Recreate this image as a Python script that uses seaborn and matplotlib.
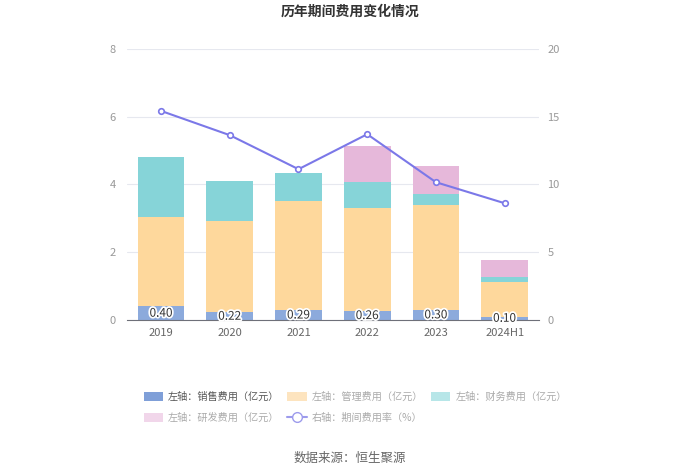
import numpy as np
import pandas as pd
import seaborn as sns
import matplotlib.pyplot as plt
import matplotlib.patheffects as pe
from matplotlib.patches import Patch
from matplotlib.lines import Line2D

# ==========================================================
# Dados
# ==========================================================
anos = ["2019", "2020", "2021", "2022", "2023", "2024H1"]
vendas = [0.40, 0.22, 0.29, 0.26, 0.30, 0.10]       # 销售费用
gestao = [2.63, 2.69, 3.21, 3.05, 3.09, 1.02]       # 管理费用
financeiro = [1.79, 1.20, 0.83, 0.77, 0.33, 0.14]   # 财务费用
pd_custos = [0.00, 0.00, 0.00, 1.04, 0.83, 0.51]    # 研发费用
taxa = [15.42, 13.63, 11.12, 13.70, 10.16, 8.61]    # 期间费用率 (%)

sns.set_style("white")
plt.rcParams['font.family'] = ['Noto Sans CJK SC', 'DejaVu Sans']

df = pd.DataFrame({"ano": anos, "vendas": vendas, "gestao": gestao,
                   "fin": financeiro, "rd": pd_custos, "taxa": taxa})
df["c1"] = df["vendas"]
df["c2"] = df["c1"] + df["gestao"]
df["c3"] = df["c2"] + df["fin"]
df["c4"] = df["c3"] + df["rd"]

c_vendas = "#8caadc"
c_gestao = "#fed89c"
c_fin = "#86d4d8"
c_rd = "#e6b8da"
c_linha = "#7b78e8"
cinza = "#999999"

fig = plt.figure(figsize=(7, 4.74), dpi=100)
ax = fig.add_axes([0.181, 0.325, 0.589, 0.572])

# barras empilhadas (desenha do topo para baixo)
for col, cor in [("c4", c_rd), ("c3", c_fin), ("c2", c_gestao), ("c1", c_vendas)]:
    sns.barplot(data=df, x="ano", y=col, color=cor, width=0.68,
                saturation=1, ax=ax, errorbar=None, linewidth=0)

# rótulos das vendas
for i, v in enumerate(vendas):
    ax.text(i, v / 2, f"{v:.2f}", ha="center", va="center", fontsize=8.5,
            color="#333333",
            path_effects=[pe.withStroke(linewidth=2.5, foreground="white")])

ax.set_ylim(0, 8)
ax.set_yticks([0, 2, 4, 6, 8])
ax.set_xlim(-0.5, 5.5)
ax.set_xlabel("")
ax.set_ylabel("")
ax.yaxis.grid(True, color="#e6e8ef", linewidth=0.8)
ax.set_axisbelow(True)
for s in ["top", "left", "right"]:
    ax.spines[s].set_visible(False)
ax.spines["bottom"].set_color("#6e7079")
ax.tick_params(axis="y", length=0, labelsize=8, labelcolor=cinza, pad=8)
ax.tick_params(axis="x", length=4, color="#6e7079", labelsize=8,
               labelcolor="#666666", pad=2)

# linha no eixo direito
ax2 = ax.twinx()
sns.lineplot(x=np.arange(len(anos)), y=taxa, ax=ax2, color=c_linha,
             linewidth=1.5, marker="o", markersize=4,
             markerfacecolor="white", markeredgecolor=c_linha,
             markeredgewidth=1.2)
ax2.set_ylim(0, 20)
ax2.set_yticks([0, 5, 10, 15, 20])
for s in ["top", "left", "right", "bottom"]:
    ax2.spines[s].set_visible(False)
ax2.tick_params(axis="y", length=0, labelsize=8, labelcolor=cinza, pad=6)
ax2.grid(False)

fig.text(0.5, 0.975, "历年期间费用变化情况", ha="center", va="center",
         fontsize=10, fontweight="bold", color="#333333")

h_vendas = Patch(facecolor="#7f9fd8", edgecolor="none")
h_gestao = Patch(facecolor="#fde4bf", edgecolor="none")
h_fin = Patch(facecolor="#b7e6e8", edgecolor="none")
h_rd = Patch(facecolor="#f1d6ea", edgecolor="none")
h_taxa = Line2D([0], [0], color="#9d9bec", linewidth=1.5, marker="o",
                markersize=7, markerfacecolor="white", markeredgecolor="#9d9bec")
# ordem por colunas para obter linhas: A B C / D E
handles = [h_vendas, h_rd, h_gestao, h_taxa, h_fin]
labels = ["左轴：销售费用（亿元）", "左轴：研发费用（亿元）", "左轴：管理费用（亿元）",
          "右轴：期间费用率（%）", "左轴：财务费用（亿元）"]
leg = fig.legend(handles, labels, ncol=3, loc="upper left",
                 bbox_to_anchor=(0.192, 0.193), frameon=False, fontsize=7.3,
                 handlelength=1.9, handleheight=1.0, columnspacing=0.8,
                 labelspacing=1.1, handletextpad=0.5)
for t in leg.get_texts():
    t.set_color("#555555" if t.get_text().startswith("左轴：销售") else "#aaaaaa")

fig.text(0.5, 0.033, "数据来源：恒生聚源", ha="center", va="center",
         fontsize=9, color="#666666")

fig.savefig("out.png", dpi=100)
